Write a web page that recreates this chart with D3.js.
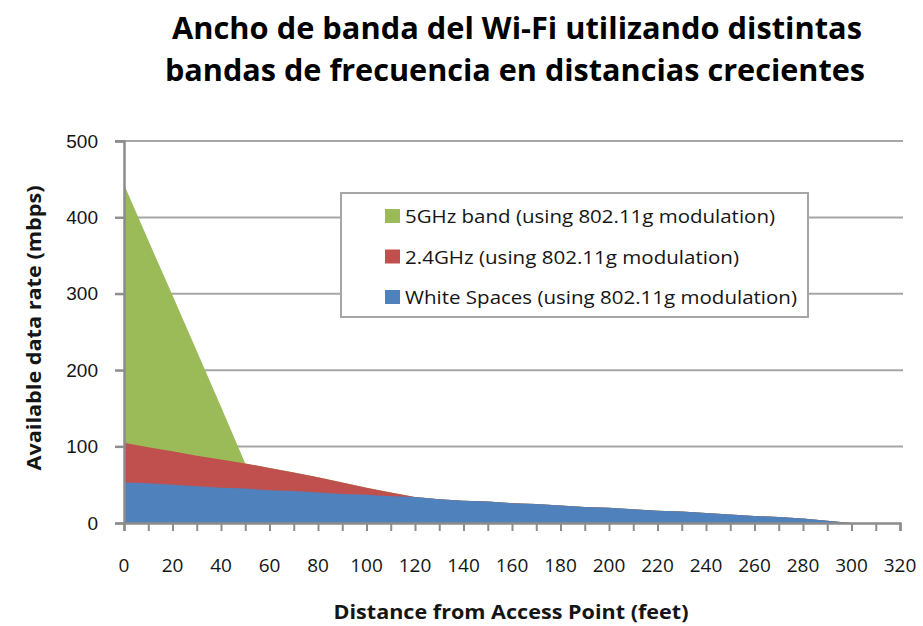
<!DOCTYPE html>
<html>
<head>
<meta charset="utf-8">
<script src="https://cdn.jsdelivr.net/npm/d3@7"></script>
<style>
  body { margin: 0; background: #fff; }
  svg { display: block; font-family: "Open Sans", "Liberation Sans", sans-serif; }
</style>
</head>
<body>
<div id="chart"></div>
<script>
// distances in feet (category points every 10 ft)
const distances = [0, 10, 20, 30, 40, 50, 60, 70, 80, 90, 100, 110, 120, 130, 140, 150,
  160, 170, 180, 190, 200, 210, 220, 230, 240, 250, 260, 270, 280, 290, 300];

// available data rate (mbps)
const whiteSpaces = [53, 52, 50, 48, 46, 45, 43, 42, 40, 38, 37, 35, 34, 31, 29, 28,
  26, 25, 23, 21, 20, 18, 16, 15, 13, 11, 9, 8, 6, 3, 0];
const band24 = [105, 99, 94, 88, 83, 78, 72, 66, 60, 53, 46, 40, 34, 31, 29, 28,
  26, 25, 23, 21, 20, 18, 16, 15, 13, 11, 9, 8, 6, 3, 0];
const band5 = [443, 370, 298, 225, 152, 78, 72, 66, 60, 53, 46, 40, 34, 31, 29, 28,
  26, 25, 23, 21, 20, 18, 16, 15, 13, 11, 9, 8, 6, 3, 0];

const yTicks = [0, 100, 200, 300, 400, 500];
const xLabelTicks = d3.range(0, 321, 20);
const xMinorTicks = d3.range(0, 321, 10);

const series = [
  { name: '5GHz band (using 802.11g modulation)', values: band5, color: '#9BBB59', len: 370 },
  { name: '2.4GHz (using 802.11g modulation)', values: band24, color: '#C0504D', len: 334 },
  { name: 'White Spaces (using 802.11g modulation)', values: whiteSpaces, color: '#4F81BD', len: 392 }
];

const W = 923, H = 626;
const plot = { left: 124, right: 900, top: 141, bottom: 523 };
const textColor = '#151515';

const svg = d3.select('#chart').append('svg')
  .attr('width', W)
  .attr('height', H);

// Title
const title = svg.append('text')
  .attr('text-anchor', 'middle')
  .style('font-weight', 'bold')
  .style('font-size', '30px')
  .style('fill', '#000');
title.append('tspan').attr('x', 517).attr('y', 39)
  .attr('textLength', 690).attr('lengthAdjust', 'spacingAndGlyphs')
  .text('Ancho de banda del Wi-Fi utilizando distintas');
title.append('tspan').attr('x', 515).attr('y', 81)
  .attr('textLength', 700).attr('lengthAdjust', 'spacingAndGlyphs')
  .text('bandas de frecuencia en distancias crecientes');

const x = d3.scaleLinear().domain([0, 320]).range([plot.left, plot.right]);
const y = d3.scaleLinear().domain([0, 500]).range([plot.bottom, plot.top]);

// Gridlines
svg.append('g')
  .selectAll('line')
  .data(yTicks.filter(d => d > 0))
  .enter()
  .append('line')
  .attr('x1', plot.left - 9)
  .attr('x2', plot.right + 3)
  .attr('y1', d => y(d))
  .attr('y2', d => y(d))
  .attr('stroke', '#a6a6a6')
  .attr('stroke-width', 2);

// Areas (drawn back to front)
const area = d3.area()
  .x((d, i) => x(distances[i]))
  .y0(y(0))
  .y1(d => y(d));

series.forEach(s => {
  svg.append('path')
    .datum(s.values)
    .attr('d', area)
    .attr('fill', s.color);
});

// Y axis
const yAxis = svg.append('g')
  .attr('transform', `translate(${plot.left},0)`)
  .call(d3.axisLeft(y).tickValues(yTicks).tickSize(9).tickPadding(17));
yAxis.select('.domain').attr('stroke', '#8c8c8c').attr('stroke-width', 2.5);
yAxis.selectAll('.tick line').attr('stroke', '#8c8c8c').attr('stroke-width', 2);
yAxis.selectAll('.tick text')
  .attr('font-family', null)
  .attr('font-size', null)
  .style('font-size', '19px')
  .style('fill', textColor);

// X axis
const xAxis = svg.append('g')
  .attr('transform', `translate(0,${plot.bottom})`)
  .call(d3.axisBottom(x).tickValues(xMinorTicks).tickSize(8).tickFormat(''));
xAxis.select('.domain').attr('stroke', '#8c8c8c').attr('stroke-width', 2.5);
xAxis.selectAll('.tick line').attr('stroke', '#8c8c8c').attr('stroke-width', 2);

svg.append('g')
  .selectAll('text')
  .data(xLabelTicks)
  .enter()
  .append('text')
  .attr('x', d => x(d))
  .attr('y', 572)
  .attr('text-anchor', 'middle')
  .style('font-size', '19px')
  .style('fill', textColor)
  .text(d => d);

// Axis titles
svg.append('text')
  .attr('transform', `translate(41,${(plot.top + plot.bottom) / 2 - 4}) rotate(-90)`)
  .attr('text-anchor', 'middle')
  .attr('textLength', 285)
  .attr('lengthAdjust', 'spacingAndGlyphs')
  .style('font-size', '19px')
  .style('font-weight', 'bold')
  .style('fill', textColor)
  .text('Available data rate (mbps)');

svg.append('text')
  .attr('x', 511)
  .attr('y', 619)
  .attr('text-anchor', 'middle')
  .attr('textLength', 355)
  .attr('lengthAdjust', 'spacingAndGlyphs')
  .style('font-size', '19px')
  .style('font-weight', 'bold')
  .style('fill', textColor)
  .text('Distance from Access Point (feet)');

// Legend
const legend = svg.append('g').attr('transform', 'translate(341,193)');
legend.append('rect')
  .attr('width', 467)
  .attr('height', 124)
  .attr('fill', '#fff')
  .attr('stroke', '#a6a6a6')
  .attr('stroke-width', 2);

series.forEach((s, i) => {
  const item = legend.append('g').attr('transform', `translate(44, ${16 + i * 40.5})`);
  item.append('rect')
    .attr('width', 15)
    .attr('height', 14)
    .attr('fill', s.color);
  item.append('text')
    .attr('x', 20)
    .attr('y', 14)
    .attr('textLength', s.len)
    .attr('lengthAdjust', 'spacingAndGlyphs')
    .style('font-size', '19px')
    .style('fill', textColor)
    .text(s.name);
});
</script>
</body>
</html>
